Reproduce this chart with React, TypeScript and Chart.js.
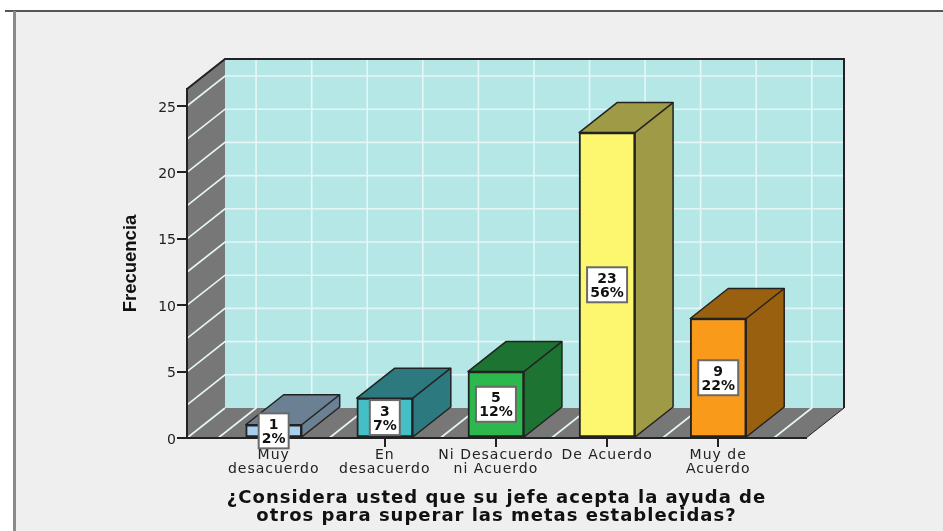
import React, { useEffect, useRef } from "react";
import { Chart, registerables } from "chart.js";

Chart.register(...registerables);

const categories: string[][] = [
  ["Muy", "desacuerdo"],
  ["En", "desacuerdo"],
  ["Ni Desacuerdo", "ni Acuerdo"],
  ["De Acuerdo"],
  ["Muy de", "Acuerdo"],
];
const frequencies = [1, 3, 5, 23, 9];
const percents = ["2%", "7%", "12%", "56%", "22%"];
const yTicks = [0, 5, 10, 15, 20, 25];
const yGridLines = [0, 2.5, 5, 7.5, 10, 12.5, 15, 17.5, 20, 22.5, 25];
const xGridLines = [-0.5, 0, 0.5, 1, 1.5, 2, 2.5, 3, 3.5, 4, 4.5];
const frontColors = ["#A9CFEF", "#45BFC6", "#2DB84D", "#FCF76E", "#FA9A1A"];
const sideColors = ["#6C8093", "#2C7A7F", "#1D7332", "#9E9A45", "#98600F"];
const xTitle = ["¿Considera usted que su jefe acepta la ayuda de", "otros para superar las metas establecidas?"];
const yTitle = "Frecuencia";

const DX = 38;
const DY = -30;
const LINE = "#222222";

const spaced = (scale: any, method: string, spacing: string) => {
  if (scale["__" + method]) return;
  const orig = scale[method];
  scale["__" + method] = true;
  scale[method] = function (...args: any[]) {
    const ctx = this.ctx;
    ctx.save();
    ctx.letterSpacing = spacing;
    orig.apply(this, args);
    ctx.restore();
  };
};

const scene3d = {
  id: "scene3d",
  beforeDraw(chart: any) {
    const { ctx, scales, width, height } = chart;
    const { x, y } = scales;
    spaced(x, "drawLabels", "1px");
    spaced(x, "drawTitle", "1px");
    ctx.save();
    ctx.fillStyle = "#FFFFFF";
    ctx.fillRect(0, 0, width, height);
    ctx.fillStyle = "#EFEFEF";
    ctx.fillRect(15, 11, width, height);
    ctx.fillStyle = "#555555";
    ctx.fillRect(5, 10, width, 2);
    ctx.fillStyle = "#8A8A8A";
    ctx.fillRect(13, 11, 3, height);

    const l = x.left, r = x.right, t = y.top, b = y.bottom;
    // back wall
    ctx.fillStyle = "#B5E7E7";
    ctx.fillRect(l + DX, t + DY, r - l, b - t);
    // left wall
    ctx.fillStyle = "#777777";
    ctx.beginPath();
    ctx.moveTo(l, t); ctx.lineTo(l + DX, t + DY); ctx.lineTo(l + DX, b + DY); ctx.lineTo(l, b);
    ctx.closePath(); ctx.fill();
    // floor
    ctx.beginPath();
    ctx.moveTo(l, b); ctx.lineTo(l + DX, b + DY); ctx.lineTo(r + DX, b + DY); ctx.lineTo(r, b);
    ctx.closePath(); ctx.fill();

    // grid
    ctx.strokeStyle = "#E6F6F6";
    ctx.lineWidth = 1.6;
    for (const v of yGridLines) {
      const py = y.getPixelForValue(v);
      ctx.beginPath();
      if (v > 0) {
        ctx.moveTo(l, py); ctx.lineTo(l + DX, py + DY); ctx.lineTo(r + DX, py + DY);
      }
      ctx.stroke();
    }
    for (const v of xGridLines) {
      const px = x.getPixelForValue(v);
      ctx.beginPath();
      ctx.moveTo(px + DX, t + DY); ctx.lineTo(px + DX, b + DY); ctx.lineTo(px, b);
      ctx.stroke();
    }
    // corner diagonal on floor
    ctx.beginPath();
    ctx.moveTo(l, b); ctx.lineTo(l + DX, b + DY);
    ctx.stroke();

    // outlines
    ctx.strokeStyle = LINE;
    ctx.lineWidth = 2;
    ctx.beginPath();
    ctx.moveTo(l, t); ctx.lineTo(l + DX, t + DY); ctx.lineTo(r + DX, t + DY); ctx.lineTo(r + DX, b + DY);
    ctx.stroke();
    ctx.lineWidth = 1;
    ctx.beginPath();
    ctx.moveTo(r + DX, b + DY); ctx.lineTo(r, b);
    ctx.stroke();
    ctx.restore();
  },
  beforeDatasetsDraw(chart: any) {
    const { ctx } = chart;
    const bars = chart.getDatasetMeta(0).data;
    ctx.save();
    ctx.strokeStyle = LINE;
    ctx.lineWidth = 1.5;
    ctx.lineJoin = "round";
    bars.forEach((bar: any, i: number) => {
      const w = bar.width / 2;
      const x0 = bar.x - w, x1 = bar.x + w, top = bar.y, base = bar.base;
      ctx.fillStyle = sideColors[i];
      ctx.beginPath();
      ctx.moveTo(x0, top); ctx.lineTo(x0 + DX, top + DY); ctx.lineTo(x1 + DX, top + DY);
      ctx.lineTo(x1 + DX, base + DY); ctx.lineTo(x1, base); ctx.lineTo(x1, top);
      ctx.closePath(); ctx.fill(); ctx.stroke();
      ctx.beginPath();
      ctx.moveTo(x1, top); ctx.lineTo(x1 + DX, top + DY);
      ctx.stroke();
    });
    ctx.restore();
  },
  afterDraw(chart: any) {
    const { ctx } = chart;
    const bars = chart.getDatasetMeta(0).data;
    ctx.save();
    ctx.font = "bold 14px 'DejaVu Sans'";
    ctx.textAlign = "center";
    ctx.textBaseline = "middle";
    bars.forEach((bar: any, i: number) => {
      const cy = (bar.y + bar.base) / 2;
      const cx = bar.x;
      const bw = percents[i].length > 2 ? 40 : 30;
      const bh = 35;
      ctx.fillStyle = "#FFFFFF";
      ctx.fillRect(cx - bw / 2, cy - bh / 2, bw, bh);
      ctx.strokeStyle = "#6A6A6A";
      ctx.lineWidth = 2;
      ctx.strokeRect(cx - bw / 2, cy - bh / 2, bw, bh);
      ctx.fillStyle = "#111111";
      ctx.fillText(String(frequencies[i]), cx, cy - 5.5);
      ctx.fillText(percents[i], cx, cy + 8.5);
    });
    ctx.restore();
  },
};

export default function App() {
  const ref = useRef<HTMLCanvasElement | null>(null);
  useEffect(() => {
    document.body.style.margin = "0";
    const chart = new Chart(ref.current as HTMLCanvasElement, {
      type: "bar",
      data: {
        datasets: [
          {
            label: "Frecuencia",
            data: frequencies.map((v, i) => ({ x: i, y: v })),
            backgroundColor: frontColors,
            borderColor: LINE,
            borderWidth: 2,
            borderSkipped: false,
            barThickness: 56,
          } as any,
        ],
      },
      plugins: [scene3d],
      options: {
        responsive: false,
        animation: false,
        layout: { padding: { left: 120, top: 89, right: 137, bottom: 6 } },
        plugins: { legend: { display: false }, tooltip: { enabled: false } },
        scales: {
          x: {
            type: "linear",
            offset: false,
            min: -0.78,
            max: 4.79,
            afterBuildTicks: (s: any) => {
              s.ticks = categories.map((_, i) => ({ value: i }));
            },
            afterFit: (s: any) => {
              s.height = 87;
            },
            grid: { offset: false, drawOnChartArea: false, drawTicks: true, tickLength: 9, tickColor: LINE, lineWidth: 2 },
            border: { color: LINE, width: 2 },
            ticks: {
              autoSkip: false,
              maxRotation: 0,
              minRotation: 0,
              padding: 1,
              color: "#222222",
              font: { family: "'DejaVu Sans'", size: 14, lineHeight: 1 },
              callback: (v: any) => categories[Number(v)],
            },
            title: {
              display: true,
              text: xTitle,
              color: "#111111",
              padding: { top: 0, bottom: 0 },
              font: { family: "'DejaVu Sans'", size: 18, weight: "bold", lineHeight: 1 },
            },
          },
          y: {
            min: 0,
            max: 26.28,
            afterBuildTicks: (s: any) => {
              s.ticks = yTicks.map((value) => ({ value }));
            },
            afterFit: (s: any) => {
              s.width = 67;
            },
            grid: { drawOnChartArea: false, drawTicks: true, tickLength: 10, tickColor: LINE, lineWidth: 2 },
            border: { color: LINE, width: 2 },
            ticks: {
              padding: 1,
              labelOffset: 2,
              color: "#222222",
              font: { family: "'DejaVu Sans'", size: 14 },
            },
            title: {
              display: true,
              text: yTitle,
              color: "#111111",
              padding: 0,
              font: { family: "'Liberation Sans'", size: 18.5, weight: "bold", lineHeight: 1.2 },
            },
          },
        },
      },
    } as any);
    return () => chart.destroy();
  }, []);
  return (
    <div style={{ width: 943, height: 531 }}>
      <canvas ref={ref} width={943} height={531} style={{ display: "block" }} />
    </div>
  );
}
